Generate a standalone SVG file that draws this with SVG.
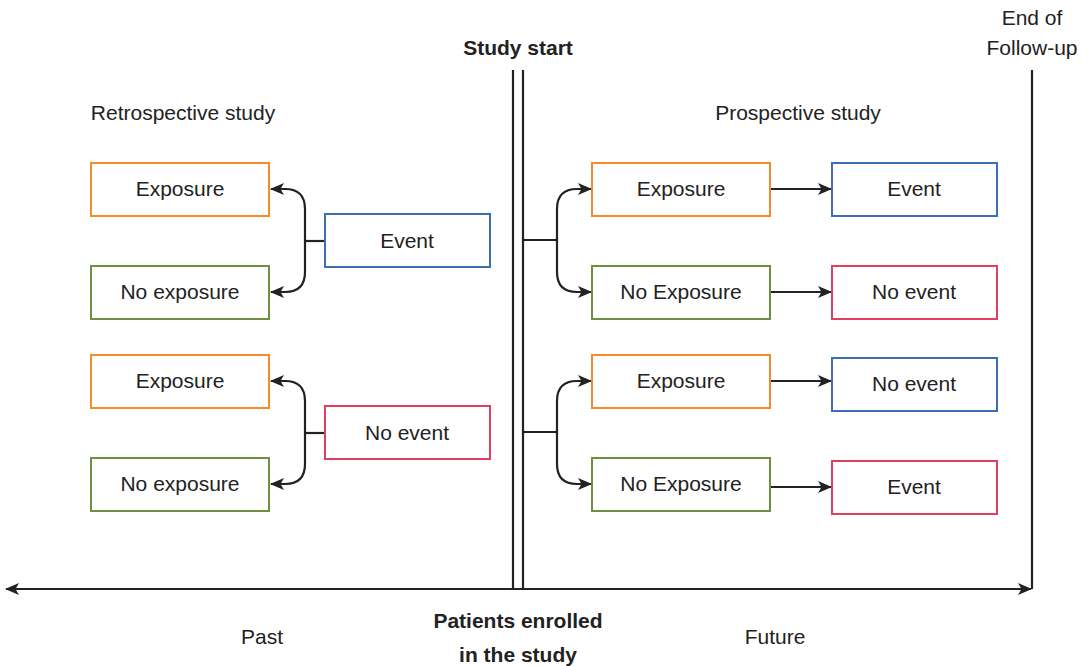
<svg xmlns="http://www.w3.org/2000/svg" width="1088" height="666" viewBox="0 0 1088 666">
<style>
text{font-family:"Liberation Sans",Arial,sans-serif;font-size:21px;fill:#222;text-anchor:middle}
.b{font-weight:bold}
rect{fill:#fff;stroke-width:2}
.o{stroke:#f6892a}.g{stroke:#6e8f3f}.bl{stroke:#3f6db5}.r{stroke:#e0405e}
.ln{fill:none;stroke:#222;stroke-width:2.2}
</style>
<defs>
<marker id="ah" viewBox="0 0 14 12" refX="13" refY="6" markerWidth="14" markerHeight="12" markerUnits="userSpaceOnUse" orient="auto-start-reverse">
<path d="M0,0 L14,6 L0,12 L3.5,6 Z" fill="#222"/>
</marker>
</defs>
<g id="connectors">
<path class="ln" d="M513 70 V589"/>
<path class="ln" d="M523 70 V589"/>
<path class="ln" d="M1032 70 V589"/>
<path class="ln" d="M6 589 H1031" marker-start="url(#ah)" marker-end="url(#ah)"/>
<path class="ln" d="M325 241 H305"/>
<path class="ln" d="M305 241 V209 Q305 189 285 189 H271" marker-end="url(#ah)"/>
<path class="ln" d="M305 241 V272 Q305 292 285 292 H271" marker-end="url(#ah)"/>
<path class="ln" d="M325 433 H305"/>
<path class="ln" d="M305 433 V401 Q305 381 285 381 H271" marker-end="url(#ah)"/>
<path class="ln" d="M305 433 V464 Q305 484 285 484 H271" marker-end="url(#ah)"/>
<path class="ln" d="M523 240 H557"/>
<path class="ln" d="M557 240 V209 Q557 189 577 189 H591" marker-end="url(#ah)"/>
<path class="ln" d="M557 240 V272 Q557 292 577 292 H591" marker-end="url(#ah)"/>
<path class="ln" d="M523 432 H557"/>
<path class="ln" d="M557 432 V401 Q557 381 577 381 H591" marker-end="url(#ah)"/>
<path class="ln" d="M557 432 V464 Q557 484 577 484 H591" marker-end="url(#ah)"/>
<path class="ln" d="M771 189 H831" marker-end="url(#ah)"/>
<path class="ln" d="M771 292 H831" marker-end="url(#ah)"/>
<path class="ln" d="M771 381 H831" marker-end="url(#ah)"/>
<path class="ln" d="M771 487 H831" marker-end="url(#ah)"/>
</g>
<g id="labels">
<text class="b" x="518" y="55">Study start</text>
<text x="1032" y="25">End of</text>
<text x="1032" y="55">Follow-up</text>
<text x="183" y="120">Retrospective study</text>
<text x="798" y="120">Prospective study</text>
<text x="262" y="644">Past</text>
<text x="775" y="644">Future</text>
<text class="b" x="518" y="628">Patients enrolled</text>
<text class="b" x="518" y="662">in the study</text>
</g>
<g id="l-exp1"><rect class="o" x="91" y="163" width="178" height="53"/><text x="180" y="196">Exposure</text></g>
<g id="l-noexp1"><rect class="g" x="91" y="266" width="178" height="53"/><text x="180" y="299">No exposure</text></g>
<g id="l-exp2"><rect class="o" x="91" y="355" width="178" height="53"/><text x="180" y="388">Exposure</text></g>
<g id="l-noexp2"><rect class="g" x="91" y="458" width="178" height="53"/><text x="180" y="491">No exposure</text></g>
<g id="l-event"><rect class="bl" x="325" y="214" width="165" height="53"/><text x="407" y="248">Event</text></g>
<g id="l-noevent"><rect class="r" x="325" y="406" width="165" height="53"/><text x="407" y="440">No event</text></g>
<g id="r-exp1"><rect class="o" x="592" y="163" width="178" height="53"/><text x="681" y="196">Exposure</text></g>
<g id="r-noexp1"><rect class="g" x="592" y="266" width="178" height="53"/><text x="681" y="299">No Exposure</text></g>
<g id="r-exp2"><rect class="o" x="592" y="355" width="178" height="53"/><text x="681" y="388">Exposure</text></g>
<g id="r-noexp2"><rect class="g" x="592" y="458" width="178" height="53"/><text x="681" y="491">No Exposure</text></g>
<g id="r-event1"><rect class="bl" x="832" y="163" width="165" height="53"/><text x="914" y="196">Event</text></g>
<g id="r-noevent1"><rect class="r" x="832" y="266" width="165" height="53"/><text x="914" y="299">No event</text></g>
<g id="r-noevent2"><rect class="bl" x="832" y="358" width="165" height="53"/><text x="914" y="391">No event</text></g>
<g id="r-event2"><rect class="r" x="832" y="461" width="165" height="53"/><text x="914" y="494">Event</text></g>
</svg>
